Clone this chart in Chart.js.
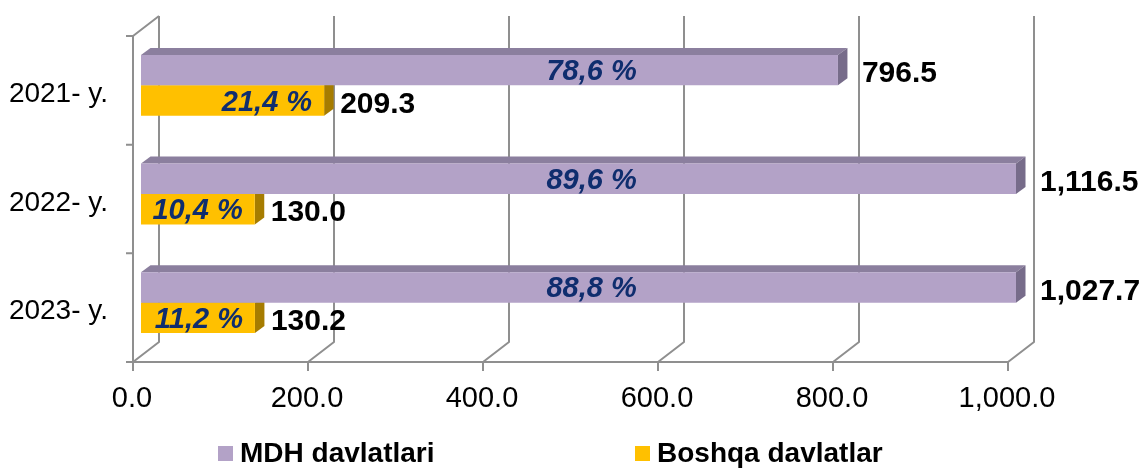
<!DOCTYPE html>
<html>
<head>
<meta charset="utf-8">
<script src="https://cdn.jsdelivr.net/npm/chart.js@4/dist/chart.umd.min.js"></script>
<style>
  html, body { margin: 0; padding: 0; background: #fff; }
  #wrap { position: relative; width: 1142px; height: 470px; }
  #legend { position: absolute; left: 0; top: 437px; width: 1142px; height: 32px;
            font: bold 28px "Liberation Sans", Arial, sans-serif; color: #000; }
  #legend .item { position: absolute; top: 0; line-height: 32px; white-space: nowrap; }
  #legend .box { position: absolute; top: 9px; width: 15px; height: 15px; }
</style>
</head>
<body>
<div id="wrap">
  <canvas id="chart" width="1142" height="470"></canvas>
  <div id="legend"></div>
</div>
<script>
// data
const categories = ["2021- y.", "2022- y.", "2023- y."];
const seriesNames = ["MDH davlatlari", "Boshqa davlatlar"];
const mdhValues = [796.5, 1116.5, 1027.7];
const otherValues = [209.3, 130.0, 130.2];
const mdhShares = ["78,6 %", "89,6 %", "88,8 %"];
const otherShares = ["21,4 %", "10,4 %", "11,2 %"];
const xMin = 0;
const xMax = 1000;
const xStep = 200;

const frontColors = ["#B3A2C7", "#FFC000"];
const topColors = ["#8B7F9E", "#C99700"];
const sideColors = ["#776C8A", "#A67C00"];
const shareColor = "#0F2D6E";
const gridColor = "#8F8F8F";
const fontFamily = '"Liberation Sans", Arial, sans-serif';

// 3d depth of the bars and of the box around the plot
const barDx = 9.5, barDy = -7;
const frontShift = { x: -8, y: 5 };
const backShift = { x: 18, y: -15 };
const mdhShareAt = 515; // x value where the MDH share text sits

function fmt(v) {
    return v.toLocaleString("en-US", { minimumFractionDigits: 1, maximumFractionDigits: 1 });
}

function barBox(bar, area) {
    let left = Math.min(bar.base, bar.x);
    let right = Math.min(Math.max(bar.base, bar.x), area.right);
    return { left: left, right: right, top: bar.y - bar.height / 2, bottom: bar.y + bar.height / 2 };
}

function poly(ctx, pts, color) {
    ctx.beginPath();
    ctx.moveTo(pts[0][0], pts[0][1]);
    for (let i = 1; i < pts.length; i++) ctx.lineTo(pts[i][0], pts[i][1]);
    ctx.closePath();
    ctx.fillStyle = color;
    ctx.fill();
}

const box3d = {
    id: "box3d",
    beforeDatasetsDraw(chart) {
        const ctx = chart.ctx;
        const area = chart.chartArea;
        const xs = chart.scales.x;
        const fTop = area.top + frontShift.y, fBot = area.bottom + frontShift.y;
        const bTop = area.top + backShift.y, bBot = area.bottom + backShift.y;
        const f0 = xs.getPixelForValue(xMin) + frontShift.x;
        const b0 = xs.getPixelForValue(xMin) + backShift.x;

        ctx.save();
        ctx.strokeStyle = gridColor;
        ctx.lineWidth = 2;
        ctx.lineJoin = "round";
        ctx.beginPath();
        for (let v = xMin; v <= xMax; v += xStep) {
            let px = xs.getPixelForValue(v);
            let bx = px + backShift.x, fx = px + frontShift.x;
            ctx.moveTo(bx, bTop);
            ctx.lineTo(bx, bBot);
            ctx.lineTo(fx, fBot);
            ctx.lineTo(fx, fBot + 9);
        }
        // floor front edge
        ctx.moveTo(f0, fBot);
        ctx.lineTo(xs.getPixelForValue(xMax) + frontShift.x, fBot);
        // left wall
        ctx.moveTo(b0, bTop);
        ctx.lineTo(f0, fTop);
        ctx.lineTo(f0, fBot);
        let step = (fBot - fTop) / categories.length;
        for (let i = 0; i <= categories.length; i++) {
            ctx.moveTo(f0 - 7, fTop + i * step);
            ctx.lineTo(f0, fTop + i * step);
        }
        ctx.stroke();

        // top and side faces of the bars, the front faces come from chart.js
        chart.data.datasets.forEach((ds, di) => {
            chart.getDatasetMeta(di).data.forEach((bar) => {
                let b = barBox(bar, area);
                poly(ctx, [[b.left, b.top], [b.left + barDx, b.top + barDy],
                           [b.right + barDx, b.top + barDy], [b.right, b.top]], topColors[di]);
                poly(ctx, [[b.right, b.top], [b.right + barDx, b.top + barDy],
                           [b.right + barDx, b.bottom + barDy], [b.right, b.bottom]], sideColors[di]);
            });
        });
        ctx.restore();
    },
    afterDatasetsDraw(chart) {
        const ctx = chart.ctx;
        const area = chart.chartArea;
        const xs = chart.scales.x;
        const shares = [mdhShares, otherShares];
        const gaps = [24, 16];
        ctx.save();
        ctx.textBaseline = "middle";
        chart.data.datasets.forEach((ds, di) => {
            chart.getDatasetMeta(di).data.forEach((bar, i) => {
                let b = barBox(bar, area);
                let cy = bar.y + 2;
                ctx.font = "bold 30px " + fontFamily;
                ctx.fillStyle = "#000";
                ctx.textAlign = "left";
                ctx.fillText(fmt(ds.data[i]), b.right + gaps[di], cy + 2);

                ctx.font = "italic bold 29px " + fontFamily;
                ctx.fillStyle = shareColor;
                if (di === 0) {
                    ctx.textAlign = "center";
                    ctx.fillText(shares[di][i], xs.getPixelForValue(mdhShareAt), cy);
                } else {
                    ctx.textAlign = "right";
                    ctx.fillText(shares[di][i], b.right - 12, cy);
                }
            });
        });
        ctx.restore();
    }
};

let ctx = document.getElementById("chart").getContext("2d");
let chart = new Chart(ctx, {
    type: "bar",
    data: {
        labels: categories,
        datasets: [
            { label: seriesNames[0], data: mdhValues, backgroundColor: frontColors[0] },
            { label: seriesNames[1], data: otherValues, backgroundColor: frontColors[1] }
        ]
    },
    options: {
        indexAxis: "y",
        responsive: false,
        animation: false,
        categoryPercentage: 0.56,
        barPercentage: 1.0,
        layout: { padding: { top: 31, right: 126, left: 0, bottom: 0 } },
        plugins: {
            legend: { display: false },
            tooltip: { enabled: false }
        },
        scales: {
            x: {
                min: xMin,
                max: xMax,
                grid: { display: false, drawTicks: false },
                border: { display: false },
                ticks: {
                    stepSize: xStep,
                    color: "#000",
                    font: { family: fontFamily, size: 29 },
                    padding: 25,
                    labelOffset: -9,
                    maxRotation: 0,
                    callback: (v) => fmt(v)
                },
                afterFit: (scale) => { scale.height = 113; }
            },
            y: {
                grid: { display: false, drawTicks: false },
                border: { display: false },
                ticks: {
                    color: "#000",
                    font: { family: fontFamily, size: 28 },
                    padding: 33,
                    labelOffset: 9
                },
                afterFit: (scale) => {
                    scale.width = 141;
                    scale.paddingTop = 0;
                    scale.paddingBottom = 0;
                }
            }
        }
    },
    plugins: [box3d]
});

// legend under the plot
let legendEl = document.getElementById("legend");
const legendX = [218, 635];
seriesNames.forEach((name, i) => {
    legendEl.innerHTML += `
    <div class="item" style="left:${legendX[i]}px">
        <span class="box" style="left:0;background:${frontColors[i]}"></span>
        <span style="margin-left:22px">${name}</span>
    </div>`;
});
</script>
</body>
</html>
